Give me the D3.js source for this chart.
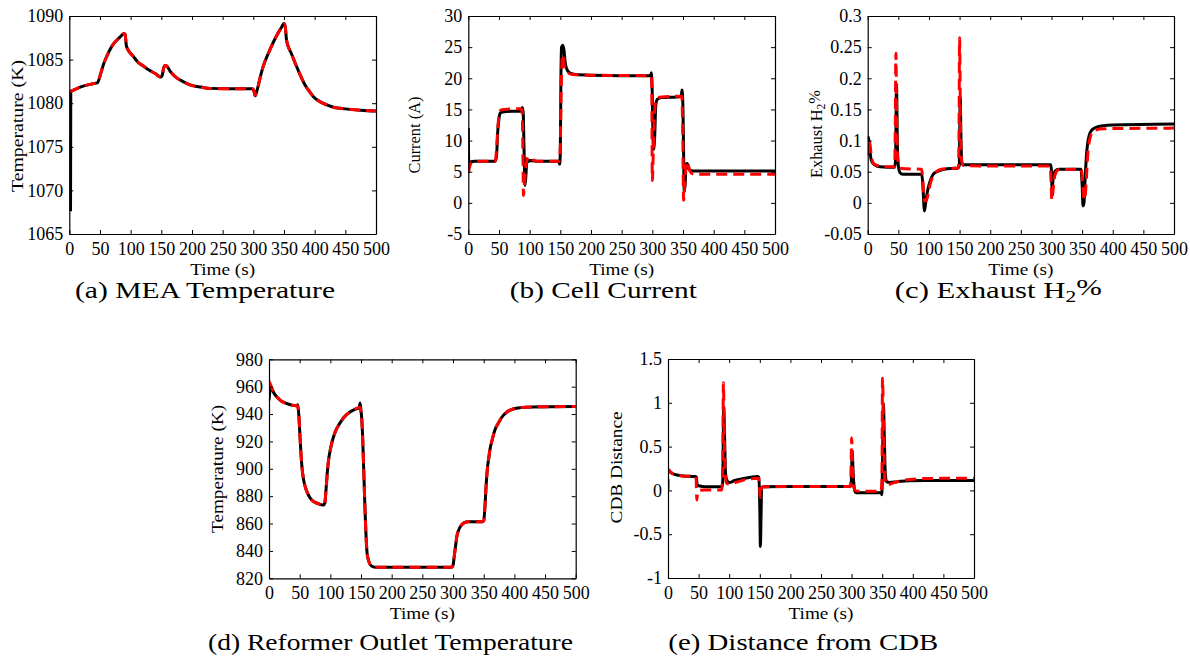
<!DOCTYPE html>
<html>
<head>
<meta charset="utf-8">
<script src="https://cdn.jsdelivr.net/npm/d3@7"></script>
<style>
  body { margin: 0; background: #fff; }
  svg text { font-family: "Liberation Serif", "Times New Roman", serif; fill: #000; }
</style>
</head>
<body>
<svg id="chart" width="1190" height="659"></svg>
<script>
// shared time axis
const timeTicks = [0, 50, 100, 150, 200, 250, 300, 350, 400, 450, 500];

// (a) MEA temperature, K  -- black = plant, red = model
const meaTempPlant = [[2,1067.6],[2.4,1081.3],[10,1081.6],[20,1081.9],[30,1082.1],[40,1082.25],[46,1082.35],[50,1083.1],[55,1084.3],[60,1085.2],[66,1086.1],[72,1086.8],[80,1087.4],[85,1087.75],[89,1088.0],[91,1087.9],[93,1086.6],[96,1086.1],[104,1085.4],[112,1084.7],[120,1084.3],[130,1083.8],[140,1083.4],[149,1083.0],[151,1083.1],[155,1084.3],[158,1084.3],[165,1083.6],[175,1082.9],[185,1082.5],[197,1082.1],[215,1081.85],[230,1081.7],[260,1081.65],[299,1081.65],[301,1081.4],[303,1080.85],[305,1081.2],[308,1082.0],[312,1083.2],[316,1084.2],[325,1085.8],[333,1087.05],[340,1088.0],[346,1088.7],[350,1089.15],[352,1088.8],[354,1087.3],[356,1086.7],[362,1085.7],[370,1084.3],[376,1083.3],[385,1082.0],[392,1081.3],[398,1080.75],[408,1080.2],[420,1079.8],[432,1079.5],[450,1079.35],[475,1079.2],[500,1079.1]];
const meaTempModel = [[0,1081.3],[10,1081.6],[20,1081.9],[30,1082.1],[40,1082.25],[46,1082.35],[50,1083.1],[55,1084.3],[60,1085.2],[66,1086.1],[72,1086.8],[80,1087.4],[85,1087.75],[89,1088.0],[91,1087.9],[93,1086.6],[96,1086.1],[104,1085.4],[112,1084.7],[120,1084.3],[130,1083.8],[140,1083.4],[149,1083.0],[151,1083.1],[155,1084.3],[158,1084.3],[165,1083.6],[175,1082.9],[185,1082.5],[197,1082.1],[215,1081.85],[230,1081.7],[260,1081.65],[299,1081.65],[301,1081.4],[303,1080.9],[305,1081.2],[308,1082.0],[312,1083.2],[316,1084.2],[325,1085.8],[333,1087.05],[340,1088.0],[346,1088.7],[350,1089.1],[352,1088.8],[354,1087.3],[356,1086.7],[362,1085.7],[370,1084.3],[376,1083.3],[385,1082.0],[392,1081.3],[398,1080.75],[408,1080.2],[420,1079.8],[432,1079.5],[450,1079.35],[475,1079.2],[500,1079.1]];
const meaTempTicks = [1065, 1070, 1075, 1080, 1085, 1090];

// (b) cell current, A
const currentPlant = [[0,12.0],[0.8,6.0],[2,6.2],[5,6.6],[10,6.7],[44,6.7],[46,7.5],[48,11.5],[50,13.5],[52,14.4],[56,14.6],[70,14.7],[86,14.7],[88,15.3],[89.5,14.5],[91,8],[92.5,2.8],[94,4.5],[95.5,6.9],[97,6.6],[100,6.8],[110,6.7],[147,6.7],[149,6.2],[150,8],[151,20],[152,25.0],[154,25.3],[156,24.5],[158,22.5],[160,21.6],[165,20.9],[175,20.6],[200,20.5],[297,20.4],[298.5,20.9],[300,17],[301,11],[302,8.6],[304,11],[305.5,15.5],[308,16.6],[315,16.9],[340,17.0],[347,17.1],[348.5,18.1],[350,15],[351,8],[352,1.8],[353.5,3],[355,6.2],[357,6.3],[359,5.6],[362,5.2],[370,5.1],[500,5.1]];
const currentModel = [[0,4.8],[1.5,5.5],[3,6.1],[6,6.5],[12,6.7],[44,6.7],[46,8.5],[48,11.8],[50,14.0],[53,14.9],[58,15.0],[86,15.1],[88,14.5],[89,8],[90,1.2],[91.5,3],[93,5],[95,6.5],[97.5,7.4],[100,7.2],[105,6.9],[112,6.7],[148,6.7],[150,9],[151,16],[152.5,22],[154,23.8],[156,22.5],[158,21.5],[162,20.9],[170,20.6],[200,20.5],[298,20.4],[299,19.5],[300,3.6],[301.5,8],[303,13],[305,16.0],[308,16.8],[315,17.0],[340,17.1],[348,17.1],[349.5,12],[351,0.4],[352.5,2],[354,5],[356,6.6],[358,6.3],[361,5.2],[365,4.7],[370,4.6],[500,4.6]];
const currentTicks = [-5, 0, 5, 10, 15, 20, 25, 30];

// (c) exhaust H2 fraction
const h2Plant = [[0,0.107],[2,0.1],[4,0.08],[6,0.068],[10,0.062],[20,0.058],[44,0.057],[45.5,0.07],[47,0.19],[48.5,0.09],[50,0.06],[53,0.048],[57,0.046],[88,0.046],[90,0.03],[91.5,0.0],[92.5,-0.013],[94,-0.005],[96,0.01],[99,0.025],[103,0.038],[108,0.047],[115,0.051],[125,0.054],[148,0.056],[149.5,0.06],[151,0.17],[152.5,0.09],[154,0.063],[157,0.061],[200,0.061],[299,0.061],[300,0.05],[301,0.022],[303,0.042],[306,0.051],[312,0.054],[348,0.054],[350,0.03],[351.5,-0.005],[353,0.0],[355,0.04],[357,0.075],[359,0.095],[362,0.11],[366,0.117],[372,0.121],[385,0.124],[400,0.125],[500,0.1265]];
const h2Model = [[0,0.075],[1,0.095],[2,0.1],[4,0.092],[6,0.075],[9,0.064],[15,0.06],[25,0.058],[44,0.058],[45,0.12],[46,0.24],[47.5,0.12],[49,0.07],[52,0.058],[56,0.055],[88,0.054],[90,0.035],[91.5,0.01],[93,0.003],[96,0.005],[99,0.015],[102,0.03],[106,0.042],[112,0.05],[120,0.054],[148,0.056],[149,0.1],[150,0.265],[151.5,0.12],[153,0.07],[156,0.06],[200,0.059],[298,0.059],[299.5,0.03],[300.5,0.004],[302,0.015],[304,0.035],[307,0.048],[312,0.053],[348,0.054],[350,0.045],[352,0.015],[353.5,0.005],[355,0.01],[357,0.04],[359,0.075],[362,0.1],[366,0.112],[372,0.117],[385,0.119],[500,0.12]];
const h2Ticks = [-0.05, 0, 0.05, 0.1, 0.15, 0.2, 0.25, 0.3];

// (d) reformer outlet temperature, K
const reformerPlant = [[0,950],[1.5,957],[3,960],[6,957],[10,954],[15,951.5],[20,949.5],[30,947.5],[40,946.3],[45,946],[47,946.8],[48.5,940],[50,928],[52,912],[54,900],[56,893],[59,887],[63,882],[68,878],[75,875.5],[82,874.3],[89,873.5],[91,875],[93,885],[95,897],[97,906],[100,914],[103,920],[108,927],[115,933],[122,937.5],[132,941.5],[140,943.5],[147,944.5],[148.5,948],[150,942],[151,938],[152.5,925],[154,905],[156,877],[158,853],[160,838],[163,832],[167,829],[175,828],[298,828],[300,829.5],[302,836],[304,843],[306,850],[309,855],[313,858.5],[318,860.5],[325,861.4],[348,861.4],[350,862],[352,872],[354,888],[356,900],[358,907],[360,913.5],[364,921.5],[368,928],[374,933.5],[380,938],[388,941.5],[398,943.7],[410,944.7],[430,945.2],[500,945.5]];
const reformerModel = [[0,964],[3,961],[6,957.5],[10,954],[15,951.5],[20,949.5],[30,947.5],[40,946.3],[46,946],[48.5,940],[50,928],[52,912],[54,900],[56,893],[59,887],[63,882],[68,878],[75,875.5],[82,874.3],[89,873.5],[91,875],[93,885],[95,897],[97,906],[100,914],[103,920],[108,927],[115,933],[122,937.5],[132,941.5],[140,943.5],[148,945],[150,942],[151,938],[152.5,925],[154,905],[156,877],[158,853],[160,838],[163,832],[167,829],[175,828],[298,828],[300,829.5],[302,836],[304,843],[306,850],[309,855],[313,858.5],[318,860.5],[325,861.4],[348,861.4],[350,862],[352,872],[354,888],[356,900],[358,907],[360,913.5],[364,921.5],[368,928],[374,933.5],[380,938],[388,941.5],[398,943.7],[410,944.7],[430,945.2],[500,945.5]];
const reformerTicks = [820, 840, 860, 880, 900, 920, 940, 960, 980];

// (e) distance from constraint boundary
const cdbPlant = [[0,0.22],[3,0.21],[8,0.19],[15,0.175],[25,0.165],[45,0.158],[46.5,0.15],[47.5,0.062],[52,0.05],[60,0.042],[88,0.042],[89.5,0.1],[91,0.95],[92.5,0.6],[94,0.2],[96,0.12],[100,0.09],[108,0.11],[120,0.13],[135,0.15],[146,0.16],[148.5,0.15],[150,-0.2],[151,-0.64],[152,-0.3],[153,0.03],[156,0.042],[200,0.045],[298,0.045],[299.5,0.1],[301,0.45],[302.5,0.2],[304,0.05],[306,-0.02],[310,-0.028],[348,-0.025],[349.5,-0.05],[350.5,0.3],[352,0.99],[353.5,0.6],[355,0.2],[357,0.1],[362,0.09],[375,0.1],[395,0.11],[420,0.112],[500,0.112]];
const cdbModel = [[0,0.0],[0.7,0.24],[3,0.22],[8,0.19],[15,0.175],[25,0.165],[45,0.158],[46,0.13],[47,-0.11],[48.5,-0.02],[52,0.0],[60,0.005],[88,0.005],[89.5,0.3],[90.5,1.23],[92,0.6],[93.5,0.2],[96,0.08],[100,0.07],[110,0.09],[125,0.12],[140,0.135],[148,0.14],[149.5,0.05],[150.5,-0.08],[152,0.0],[154,0.04],[200,0.045],[298,0.045],[299,0.2],[300,0.6],[301.5,0.3],[303,0.05],[306,0.0],[310,-0.01],[348,-0.01],[349.5,0.1],[350.5,1.28],[352,0.8],[353.5,0.3],[355.5,0.08],[358,0.06],[362,0.07],[375,0.1],[395,0.125],[420,0.135],[500,0.14]];
const cdbTicks = [-1, -0.5, 0, 0.5, 1, 1.5];

const svg = d3.select("#chart");
svg.append("rect").attr("width", 1190).attr("height", 659).attr("fill", "#fff");

const panels = [
  { id: "a", plant: meaTempPlant, model: meaTempModel, ticks: meaTempTicks,
    left: 69.3, right: 376, top: 16, bottom: 234,
    ylab: ["Temperature (K)"], ylabX: 18.3, ylabY: 126, ylabLen: 132,
    cap: ["(a) MEA Temperature"], capX: 205, capY: 297.5, capLen: 260 },
  { id: "b", plant: currentPlant, model: currentModel, ticks: currentTicks,
    left: 468.3, right: 775, top: 16, bottom: 234,
    ylab: ["Current (A)"], ylabX: 415, ylabY: 135, ylabLen: 77,
    cap: ["(b) Cell Current"], capX: 603.3, capY: 297.5, capLen: 187 },
  { id: "c", plant: h2Plant, model: h2Model, ticks: h2Ticks,
    left: 867.7, right: 1174, top: 16, bottom: 234,
    ylab: ["Exhaust H", "2", "%"], ylabX: 816.7, ylabY: 134, ylabLen: 88,
    cap: ["(c) Exhaust H", "2", "%"], capX: 998.3, capY: 297.5, capLen: 207 },
  { id: "d", plant: reformerPlant, model: reformerModel, ticks: reformerTicks,
    left: 269, right: 575.7, top: 359.3, bottom: 578.3,
    ylab: ["Temperature (K)"], ylabX: 218.3, ylabY: 469, ylabLen: 128,
    cap: ["(d) Reformer Outlet Temperature"], capX: 390.5, capY: 650, capLen: 365 },
  { id: "e", plant: cdbPlant, model: cdbModel, ticks: cdbTicks,
    left: 668, right: 974, top: 359, bottom: 578,
    ylab: ["CDB Distance"], ylabX: 616.7, ylabY: 467.5, ylabLen: 112,
    cap: ["(e) Distance from CDB"], capX: 803.3, capY: 650, capLen: 270 }
];

const tickFmt = d => String(+d.toFixed(2));

// text with optional subscript part: [before, sub, after]
function richText(sel, parts, subSize) {
  sel.append("tspan").text(parts[0]);
  if (parts.length > 1) {
    sel.append("tspan").attr("dy", "0.3em").attr("font-size", subSize).text(parts[1]);
    sel.append("tspan").attr("dy", "-0.3em").text(parts[2]);
  }
}

function styleAxis(ax) {
  ax.attr("font-family", null);
  ax.selectAll("text").style("font-size", "18px");
  ax.select(".domain").attr("stroke-width", 1.2);
  ax.selectAll(".tick line").attr("stroke-width", 1);
}

panels.forEach(p => {
  const x = d3.scaleLinear().domain([0, 500]).range([p.left, p.right]);
  const y = d3.scaleLinear().domain([p.ticks[0], p.ticks[p.ticks.length - 1]]).range([p.bottom, p.top]);
  const g = svg.append("g").attr("class", "panel-" + p.id);

  g.append("clipPath").attr("id", "clip-" + p.id)
    .append("rect")
    .attr("x", p.left).attr("y", p.top)
    .attr("width", p.right - p.left).attr("height", p.bottom - p.top);

  const line = d3.line()
    .x(d => x(d[0]))
    .y(d => y(d[1]))
    .curve(d3.curveMonotoneX);

  const lines = g.append("g").attr("clip-path", `url(#clip-${p.id})`);
  lines.append("path")
    .datum(p.plant)
    .attr("d", line)
    .attr("fill", "none")
    .attr("stroke", "#000")
    .attr("stroke-width", 3)
    .attr("stroke-linejoin", "round");
  lines.append("path")
    .datum(p.model)
    .attr("d", line)
    .attr("fill", "none")
    .attr("stroke", "#ff0000")
    .attr("stroke-width", 3)
    .attr("stroke-dasharray", "11,6");

  // box axes, ticks pointing inward
  const bottomAx = g.append("g").attr("transform", `translate(0,${p.bottom})`)
    .call(d3.axisBottom(x).tickValues(timeTicks).tickSizeInner(-4).tickSizeOuter(0).tickPadding(8));
  const topAx = g.append("g").attr("transform", `translate(0,${p.top})`)
    .call(d3.axisTop(x).tickValues(timeTicks).tickSizeInner(-4).tickSizeOuter(0).tickFormat(""));
  const leftAx = g.append("g").attr("transform", `translate(${p.left},0)`)
    .call(d3.axisLeft(y).tickValues(p.ticks).tickSizeInner(-4).tickSizeOuter(0).tickPadding(6).tickFormat(tickFmt));
  const rightAx = g.append("g").attr("transform", `translate(${p.right},0)`)
    .call(d3.axisRight(y).tickValues(p.ticks).tickSizeInner(-4).tickSizeOuter(0).tickFormat(""));
  [bottomAx, topAx, leftAx, rightAx].forEach(styleAxis);

  // x label
  g.append("text")
    .attr("x", (p.left + p.right) / 2)
    .attr("y", p.bottom + 41)
    .attr("text-anchor", "middle")
    .attr("font-size", 17)
    .attr("textLength", 65)
    .attr("lengthAdjust", "spacingAndGlyphs")
    .text("Time (s)");

  // y label
  const yl = g.append("text")
    .attr("transform", `translate(${p.ylabX},${p.ylabY}) rotate(-90)`)
    .attr("text-anchor", "middle")
    .attr("dy", "0.3em")
    .attr("font-size", 17)
    .attr("textLength", p.ylabLen)
    .attr("lengthAdjust", "spacingAndGlyphs");
  richText(yl, p.ylab, 12);

  // sub-figure caption
  const cap = g.append("text")
    .attr("x", p.capX)
    .attr("y", p.capY)
    .attr("text-anchor", "middle")
    .attr("font-size", 23)
    .attr("textLength", p.capLen)
    .attr("lengthAdjust", "spacingAndGlyphs");
  richText(cap, p.cap, 16);
});
</script>
</body>
</html>
